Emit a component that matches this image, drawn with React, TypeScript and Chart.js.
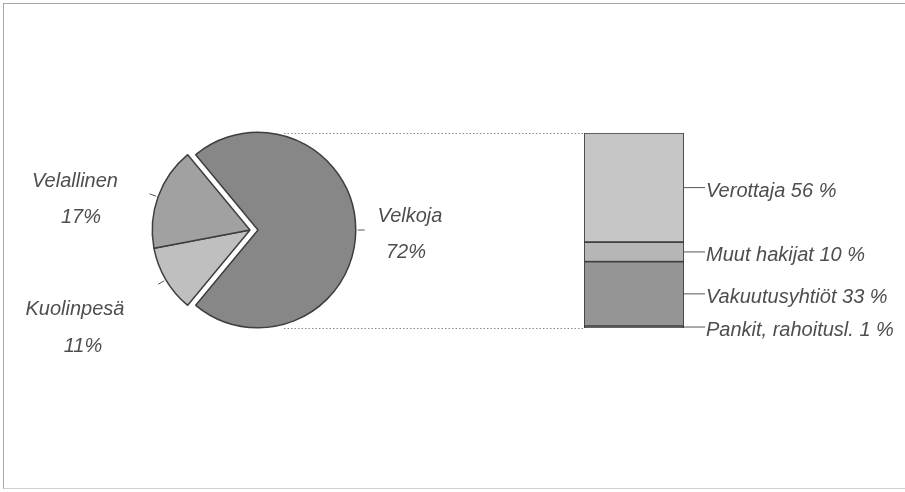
import React, { useEffect, useRef } from "react";
import { Chart, registerables } from "chart.js";

Chart.register(...registerables);

// ---- data ----
const pieLabels = ["Velkoja", "Kuolinpesä", "Velallinen"];
const pieValues = [72, 11, 17];
const barLabels = ["Pankit, rahoitusl.", "Vakuutusyhtiöt", "Muut hakijat", "Verottaja"];
const barValues = [1, 33, 10, 56];

// ---- styles / layout ----
const W = 905;
const H = 492;
const pieColors = ["#878787", "#bfbfbf", "#a1a1a1"];
const pieExploded = [true, false, false];
const EXPLODE = 8;
const ROTATION = -39.6;
const barColors = ["#4a4a4a", "#959595", "#b6b6b6", "#c6c6c6"];
const lineColor = "#3e3e3e";
const textColor = "#4e4e4e";
const FONT = 'italic 20px "Liberation Sans", Arial, sans-serif';
const PIE_CX = 250;
const PIE_CY = 230;
const PIE_AREA = 197;
const BAR_LEFT = 584;
const BAR_RIGHT = 684;
const BAR_TOP = 133;
const BAR_BOTTOM = 328;
const DOT_START_X = 284;
// label placement: [nameCenterX, nameBaseline, pctCenterX, pctBaseline]
const pieLabelPos: Record<string, number[]> = {
  Velkoja: [410, 222, 406, 258],
  Kuolinpesä: [75, 315, 83, 352],
  Velallinen: [75, 187, 81, 223],
};

function makePieDecor(show: boolean[]) {
  return {
    id: "pieDecor",
    afterDatasetsDraw(chart: any) {
      const ctx = chart.ctx;
      const meta = chart.getDatasetMeta(0);
      ctx.save();
      ctx.strokeStyle = "#555";
      ctx.lineWidth = 1;
      meta.data.forEach((arc: any, i: number) => {
        if (!show[i]) return;
        const p = arc.getProps(["x", "y", "startAngle", "endAngle", "outerRadius"], true);
        const mid = (p.startAngle + p.endAngle) / 2;
        const r1 = p.outerRadius + 2;
        const r2 = p.outerRadius + 9;
        ctx.beginPath();
        ctx.moveTo(p.x + Math.cos(mid) * r1, p.y + Math.sin(mid) * r1);
        ctx.lineTo(p.x + Math.cos(mid) * r2, p.y + Math.sin(mid) * r2);
        ctx.stroke();
        const pos = pieLabelPos[pieLabels[i]];
        if (pos) {
          ctx.font = FONT;
          ctx.fillStyle = textColor;
          ctx.textAlign = "center";
          ctx.textBaseline = "alphabetic";
          ctx.fillText(pieLabels[i], pos[0], pos[1]);
          ctx.fillText(pieValues[i] + "%", pos[2], pos[3]);
        }
      });
      ctx.restore();
    },
  };
}

const barDecor = {
  id: "barDecor",
  afterDatasetsDraw(chart: any) {
    const ctx = chart.ctx;
    const area = chart.chartArea;
    ctx.save();
    ctx.strokeStyle = "#8a8a8a";
    ctx.lineWidth = 1;
    ctx.setLineDash([1.5, 2]);
    [area.top, area.bottom].forEach((y: number) => {
      ctx.beginPath();
      ctx.moveTo(DOT_START_X, Math.round(y) + 0.5);
      ctx.lineTo(area.left, Math.round(y) + 0.5);
      ctx.stroke();
    });
    ctx.setLineDash([]);
    ctx.strokeStyle = "#555";
    ctx.font = FONT;
    ctx.fillStyle = textColor;
    ctx.textAlign = "left";
    ctx.textBaseline = "alphabetic";
    barLabels.forEach((name, i) => {
      const el: any = chart.getDatasetMeta(i).data[0];
      const p = el.getProps(["x", "y", "base", "width"], true);
      const midY = (p.y + p.base) / 2;
      const right = p.x + p.width / 2;
      ctx.beginPath();
      ctx.moveTo(right, midY);
      ctx.lineTo(right + 21, midY);
      ctx.stroke();
      ctx.fillText(`${name} ${barValues[i]} %`, right + 22, midY + 9);
    });
    ctx.restore();
  },
};

function makePie(canvas: HTMLCanvasElement, show: boolean[], dx: number, dy: number) {
  const half = PIE_AREA / 2;
  const cx = PIE_CX + dx;
  const cy = PIE_CY + dy;
  return new Chart(canvas, {
    type: "pie",
    data: {
      labels: pieLabels,
      datasets: [
        {
          data: pieValues,
          backgroundColor: pieColors.map((c, i) => (show[i] ? c : "rgba(0,0,0,0)")),
          borderColor: pieColors.map((_, i) => (show[i] ? lineColor : "rgba(0,0,0,0)")),
          borderWidth: 1.5,
          hoverOffset: 0,
        } as any,
      ],
    },
    options: {
      responsive: false,
      animation: false,
      events: [],
      rotation: ROTATION,
      layout: {
        padding: {
          left: cx - half,
          right: W - cx - half,
          top: cy - half,
          bottom: H - cy - half,
        },
      },
      plugins: { legend: { display: false }, tooltip: { enabled: false } },
    },
    plugins: [makePieDecor(show)],
  });
}

export default function App() {
  const pieBaseRef = useRef<HTMLCanvasElement>(null);
  const pieExpRef = useRef<HTMLCanvasElement>(null);
  const barRef = useRef<HTMLCanvasElement>(null);

  useEffect(() => {
    // direction of the exploded slice: its mid-angle from the data
    const total = pieValues.reduce((a, b) => a + b, 0);
    let acc = 0;
    let ex = 0;
    let ey = 0;
    pieValues.forEach((v, i) => {
      const start = -Math.PI / 2 + (ROTATION * Math.PI) / 180 + (acc / total) * 2 * Math.PI;
      const end = start + (v / total) * 2 * Math.PI;
      if (pieExploded[i]) {
        const mid = (start + end) / 2;
        ex = Math.cos(mid) * EXPLODE;
        ey = Math.sin(mid) * EXPLODE;
      }
      acc += v;
    });
    const pieBase = makePie(pieBaseRef.current as HTMLCanvasElement, pieExploded.map((e) => !e), 0, 0);
    const pieExp = makePie(pieExpRef.current as HTMLCanvasElement, pieExploded, ex, ey);

    const bar = new Chart(barRef.current as HTMLCanvasElement, {
      type: "bar",
      data: {
        labels: ["x"],
        datasets: barLabels.map((name, i) => ({
          label: name,
          data: [barValues[i]],
          backgroundColor: barColors[i],
          borderColor: lineColor,
          borderWidth: 1.2,
          borderSkipped: false,
          categoryPercentage: 1,
          barPercentage: 1,
        })),
      },
      options: {
        responsive: false,
        animation: false,
        events: [],
        layout: {
          padding: {
            left: BAR_LEFT,
            right: W - BAR_RIGHT,
            top: BAR_TOP,
            bottom: H - BAR_BOTTOM,
          },
        },
        scales: {
          x: { stacked: true, display: false },
          y: { stacked: true, display: false, min: 0, max: 100 },
        },
        plugins: { legend: { display: false }, tooltip: { enabled: false } },
      },
      plugins: [barDecor],
    });

    return () => {
      pieBase.destroy();
      pieExp.destroy();
      bar.destroy();
    };
  }, []);

  const cstyle: React.CSSProperties = { position: "absolute", left: 0, top: 0 };
  return (
    <div style={{ position: "absolute", left: 0, top: 0, width: W, height: H, background: "#fff", overflow: "hidden" }}>
      <div
        style={{
          position: "absolute",
          left: 3,
          top: 3,
          width: W - 3,
          height: 486,
          boxSizing: "border-box",
          borderTop: "1px solid #a8a8a8",
          borderLeft: "1px solid #a8a8a8",
          borderBottom: "1px solid #d0d0d0",
        }}
      />
      <canvas ref={pieBaseRef} width={W} height={H} style={cstyle} />
      <canvas ref={pieExpRef} width={W} height={H} style={cstyle} />
      <canvas ref={barRef} width={W} height={H} style={cstyle} />
    </div>
  );
}
